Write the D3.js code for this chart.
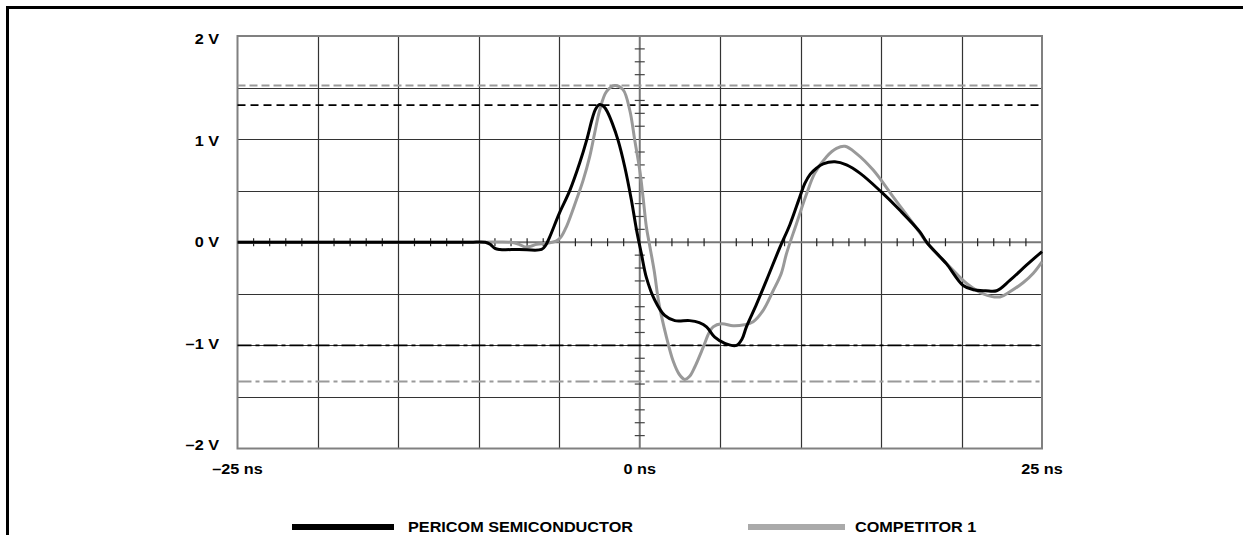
<!DOCTYPE html>
<html>
<head>
<meta charset="utf-8">
<script src="https://cdn.jsdelivr.net/npm/d3@7"></script>
<style>
  html, body { margin: 0; padding: 0; background: #fff; }
  svg { display: block; }
  text { font-family: "Liberation Sans", Arial, sans-serif; font-weight: bold; font-size: 14.5px; fill: #000; }
</style>
</head>
<body>
<svg id="chart" width="1243" height="535"></svg>
<script>
// ---------- data ----------
const seriesNames = ["PERICOM SEMICONDUCTOR", "COMPETITOR 1"];

// time (ns) and voltage (V) for Pericom trace
const pericomT = [-25, -20, -15, -12, -10.5, -9.6, -9.3, -9.0, -8.7, -7.5, -6.1, -5.85, -5.6, -5.0, -4.35, -3.73, -3.3, -2.95, -2.75, -2.49, -2.2, -2.0, -1.7, -1.35, -0.93, -0.52, -0.2, 0.1, 0.41, 0.93, 1.55, 2.18, 3.1, 3.7, 4.15, 4.66, 5.29, 6.01, 6.35, 6.63, 7.26, 7.9, 8.71, 9.33, 9.95, 10.26, 10.6, 11.0, 11.4, 12.13, 12.85, 13.68, 14.93, 16.17, 17.41, 17.83, 18.66, 19.07, 20.1, 20.73, 21.5, 22.18, 23.0, 24.05, 25];
const pericomV = [0, 0, 0, 0, 0, 0, -0.02, -0.06, -0.07, -0.07, -0.07, -0.03, 0.05, 0.28, 0.5, 0.77, 0.99, 1.2, 1.29, 1.335, 1.31, 1.26, 1.15, 0.99, 0.73, 0.41, 0.12, -0.11, -0.34, -0.56, -0.71, -0.76, -0.76, -0.78, -0.82, -0.92, -0.98, -1.0, -0.94, -0.82, -0.6, -0.36, -0.05, 0.17, 0.44, 0.57, 0.66, 0.72, 0.76, 0.78, 0.75, 0.67, 0.5, 0.31, 0.1, 0.0, -0.14, -0.21, -0.42, -0.46, -0.47, -0.47, -0.37, -0.22, -0.09];

// time (ns) and voltage (V) for Competitor 1 trace
const competitorT = [-25, -20, -15, -12, -10.5, -9.6, -8.0, -7.5, -7.15, -6.8, -6.4, -5.8, -5.2, -4.9, -4.56, -3.94, -3.52, -3.11, -2.8, -2.49, -2.07, -1.55, -1.04, -0.62, -0.31, 0, 0.21, 0.41, 0.58, 0.89, 1.2, 1.66, 2.07, 2.45, 2.8, 3.1, 3.42, 3.94, 4.3, 4.56, 5.08, 5.8, 6.5, 7.05, 7.67, 8.29, 8.8, 9.12, 9.74, 10.37, 10.88, 11.61, 12.23, 12.75, 13.47, 14.51, 15.75, 17.0, 18.03, 19.28, 20.32, 21.35, 22.39, 23.0, 23.84, 24.46, 25];
const competitorV = [0, 0, 0, 0, 0, 0, 0.0, -0.02, -0.045, -0.04, -0.02, -0.01, 0.01, 0.05, 0.15, 0.41, 0.6, 0.83, 1.06, 1.28, 1.46, 1.52, 1.48, 1.28, 0.99, 0.7, 0.43, 0.15, 0.0, -0.27, -0.6, -0.92, -1.15, -1.28, -1.33, -1.3, -1.21, -1.02, -0.88, -0.82, -0.79, -0.81, -0.8, -0.77, -0.66, -0.47, -0.3, -0.11, 0.18, 0.47, 0.67, 0.83, 0.91, 0.93, 0.86, 0.7, 0.44, 0.18, -0.04, -0.24, -0.4, -0.5, -0.53, -0.48, -0.39, -0.3, -0.19];

// reference levels (V)
const pericomPeak = 1.33;
const competitorPeak = 1.52;
const pericomTrough = -1.0;
const competitorTrough = -1.35;

// axis
const xDomain = [-25, 25];
const yDomain = [-2, 2];
const xTickLabels = [[-25, "–25 ns"], [0, "0 ns"], [25, "25 ns"]];
const yTickLabels = [[2, "2 V"], [1, "1 V"], [0, "0 V"], [-1, "–1 V"], [-2, "–2 V"]];
const xGrid = [-20, -15, -10, -5, 5, 10, 15, 20];
const yGrid = [-1.5, -1, -0.5, 0.5, 1, 1.5];

// ---------- drawing ----------
const svg = d3.select("#chart");
const pL = 237.5, pR = 1042, pT = 36, pB = 448.5;
const x = d3.scaleLinear().domain(xDomain).range([pL, pR]);
const y = d3.scaleLinear().domain(yDomain).range([pB, pT]);
const yLab = d3.scaleLinear().domain(yDomain).range([450, 44]);
const SX = 1.12;

// outer border (figure frame, cropped)
svg.append("path").attr("d", "M7.5,535 V7.5 H1243")
  .attr("fill", "none").attr("stroke", "#000").attr("stroke-width", 3);

// grid
const g = svg.append("g");
g.selectAll(".vg").data(xGrid).join("line")
  .attr("x1", d => Math.round(x(d)) + 0.5).attr("x2", d => Math.round(x(d)) + 0.5)
  .attr("y1", pT).attr("y2", pB)
  .attr("stroke", "#333").attr("stroke-width", 1.2);
g.selectAll(".hg").data(yGrid).join("line")
  .attr("y1", d => Math.round(y(d)) + 0.5).attr("y2", d => Math.round(y(d)) + 0.5)
  .attr("x1", pL).attr("x2", pR)
  .attr("stroke", "#333").attr("stroke-width", 1.2);

// centre axes with minor ticks
const x0 = x(0), y0 = y(0);
g.append("line").attr("x1", pL).attr("x2", pR).attr("y1", y0).attr("y2", y0)
  .attr("stroke", "#777").attr("stroke-width", 2);
g.append("line").attr("x1", x0).attr("x2", x0).attr("y1", pT).attr("y2", pB)
  .attr("stroke", "#777").attr("stroke-width", 2);
const xMinor = d3.range(-24, 25, 1).filter(d => d % 5 !== 0);
const yMinor = d3.range(-15, 16, 1).map(d => d * 0.125).filter(d => Math.abs(d * 2 - Math.round(d * 2)) > 1e-6);
g.selectAll(".xt").data(xMinor).join("line")
  .attr("x1", d => x(d)).attr("x2", d => x(d)).attr("y1", y0 - 4).attr("y2", y0 + 4)
  .attr("stroke", "#222").attr("stroke-width", 1.2);
g.selectAll(".yt").data(yMinor).join("line")
  .attr("y1", d => y(d)).attr("y2", d => y(d)).attr("x1", x0 - 5).attr("x2", x0 + 5)
  .attr("stroke", "#444").attr("stroke-width", 1.2);

// frame
g.append("rect").attr("x", pL).attr("y", pT).attr("width", pR - pL).attr("height", pB - pT)
  .attr("fill", "none").attr("stroke", "#808080").attr("stroke-width", 2);

// reference lines
function hline(v, color, dash, w) {
  svg.append("line").attr("x1", pL).attr("x2", pR).attr("y1", y(v)).attr("y2", y(v))
    .attr("stroke", color).attr("stroke-width", w).attr("stroke-dasharray", dash);
}
hline(competitorPeak, "#9a9a9a", "8,4", 2);
hline(pericomPeak, "#000", "8,5", 1.6);
hline(pericomTrough, "#000", "14,4,4,4", 1.6);
hline(competitorTrough, "#9a9a9a", "14,4,4,4", 2);

// traces
const line = d3.line().x(d => x(d[0])).y(d => y(d[1])).curve(d3.curveCatmullRom.alpha(0.5));
svg.append("path").datum(d3.zip(competitorT, competitorV)).attr("d", line)
  .attr("fill", "none").attr("stroke", "#999").attr("stroke-width", 3).attr("stroke-linejoin", "round");
svg.append("path").datum(d3.zip(pericomT, pericomV)).attr("d", line)
  .attr("fill", "none").attr("stroke", "#000").attr("stroke-width", 3).attr("stroke-linejoin", "round");

// labels
function label(tx, ty, s, anchor) {
  svg.append("text").attr("transform", `translate(${tx},${ty}) scale(${SX},1)`)
    .attr("text-anchor", anchor).text(s);
}
yTickLabels.forEach(([v, s]) => label(219, yLab(v), s, "end"));
xTickLabels.forEach(([v, s]) => label(x(v), 474, s, "middle"));

// legend
const legendX = [[292, 394, "#000", 408], [748, 845, "#aaa", 855]];
seriesNames.forEach((name, i) => {
  const [a, b, c, tx] = legendX[i];
  svg.append("line").attr("x1", a).attr("x2", b).attr("y1", 527).attr("y2", 527)
    .attr("stroke", c).attr("stroke-width", 6);
  label(tx, 532, name, "start");
});
</script>
</body>
</html>
